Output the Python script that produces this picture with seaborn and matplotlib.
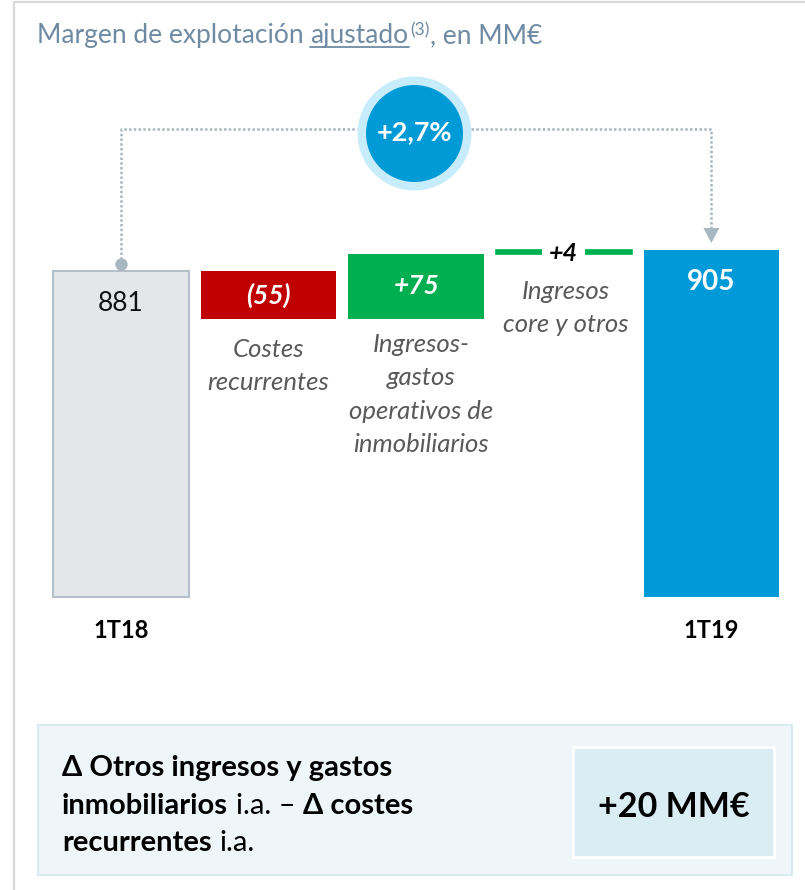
import matplotlib
matplotlib.use("Agg")
import matplotlib.pyplot as plt
from matplotlib.patches import Rectangle, Polygon
import seaborn as sns
import pandas as pd

# ---------------- data ----------------
categories = ["1T18", "Costes recurrentes", "Ingresos-gastos operativos de inmobiliarios",
              "Ingresos core y otros", "1T19"]
values = [881, -55, 75, 4, 905]
kinds = ["total", "delta", "delta", "delta", "total"]
value_labels = ["881", "(55)", "+75", "+4", "905"]
step_labels = ["", "Costes\nrecurrentes", "Ingresos-\ngastos\noperativos de\ninmobiliarios",
               "Ingresos\ncore y otros", ""]
period_labels = ["1T18", "", "", "", "1T19"]
growth_label = "+2,7%"
box_value = "+20 MM€"
bar_colors = ["#E3E7EA", "#C00000", "#00B050", "#00B050", "#009AD8"]

# ---------------- layout ----------------
W, H = 805, 890
AXIS_BASE = 506.3      # truncated value axis baseline
K = 0.87               # pixels per unit
PY_BASE = 597
X0_PX, DX_PX = 121, 147.6

def y_of(py):
    return AXIS_BASE + (PY_BASE - py) / K

def x_of(px):
    return (px - X0_PX) / DX_PX

def fx(px):
    return px / W

def fy(py):
    return 1 - py / H

sns.set_theme(style="white")
plt.rcParams["font.family"] = ["Lato", "DejaVu Sans"]

fig = plt.figure(figsize=(W / 100, H / 100), dpi=100)
ax = fig.add_axes([0, 0, 1, 1])

# waterfall geometry
bottoms, heights, tops = [], [], []
running = 0
for v, k in zip(values, kinds):
    if k == "total":
        bottoms.append(AXIS_BASE)
        heights.append(v - AXIS_BASE)
        running = v
    else:
        lo = min(running, running + v)
        bottoms.append(lo)
        heights.append(abs(v))
        running += v
    tops.append(bottoms[-1] + heights[-1])

df = pd.DataFrame({"cat": categories, "height": heights})
sns.barplot(data=df, x="cat", y="height", order=categories, bottom=bottoms,
            width=0.92, color="#cccccc", errorbar=None, ax=ax)

for i, p in enumerate(ax.patches):
    p.set_facecolor(bar_colors[i])
    p.set_edgecolor(bar_colors[i])
    p.set_linewidth(0)
    p.set_zorder(2)
ax.patches[0].set_edgecolor("#B4BFC7")
ax.patches[0].set_linewidth(1.5)
ax.patches[3].set_linewidth(1.2)

ax.set_xlim(x_of(0), x_of(W))
ax.set_ylim(y_of(H), y_of(0))
ax.axis("off")

# value labels
for i, (lab, k) in enumerate(zip(value_labels, kinds)):
    if k == "total":
        y = tops[i] - 32 / K
        if i == 0:
            ax.text(i, y, lab, ha="center", va="center", fontsize=19, color="#111111", zorder=5)
        else:
            ax.text(i, y, lab, ha="center", va="center", fontsize=20, fontweight="bold",
                    color="white", zorder=5)
    else:
        y = bottoms[i] + heights[i] / 2
        if heights[i] < 10:
            ax.text(i, y - 1.5 / K, lab, ha="center", va="center", fontsize=18, fontweight="bold",
                    fontstyle="italic", color="black", zorder=5,
                    bbox=dict(facecolor="white", edgecolor="none", pad=5))
        else:
            ax.text(i, y, lab, ha="center", va="center", fontsize=19, fontweight="bold",
                    fontstyle="italic", color="white", zorder=5)

# step labels (italic grey)
label_top_px = [None, 338, 333, 280, None]
label_dx_px = [0, 0, 5, 2, 0]
for i, lab in enumerate(step_labels):
    if lab:
        ax.text(i + label_dx_px[i] / DX_PX, y_of(label_top_px[i]), lab, ha="center", va="top",
                fontsize=18.5, fontstyle="italic", color="#595959", linespacing=1.55)

# period labels
for i, lab in enumerate(period_labels):
    if lab:
        ax.text(i, y_of(631), lab, ha="center", va="center", fontsize=17,
                fontweight="bold", color="black")

# connector (dotted) and growth bubble
cc = "#A9B7C1"
conn_y = y_of(129)
circ_x = x_of(414)
circ_y = y_of(132.5)
dot_kw = dict(color=cc, lw=1.8, dashes=(1, 0.9), solid_capstyle="butt", zorder=1)
ax.plot([0, 0, x_of(357)], [tops[0] + 7 / K, conn_y, conn_y], **dot_kw)
ax.plot([x_of(471), 4, 4], [conn_y, conn_y, y_of(229)], **dot_kw)
ax.scatter([0], [tops[0] + 7 / K], s=80, color=cc, zorder=3, linewidths=0)
ax.add_patch(Polygon([[4 - 8 / DX_PX, y_of(228)], [4 + 8 / DX_PX, y_of(228)],
                      [4, y_of(243)]], closed=True, facecolor=cc, edgecolor="none", zorder=3))
ax.scatter([circ_x], [circ_y], s=(114 * 0.72) ** 2, color="#C7ECFB", linewidths=0, zorder=4)
ax.scatter([circ_x], [circ_y], s=(97 * 0.72) ** 2, color="#009AD7", linewidths=0, zorder=5)
ax.text(circ_x, circ_y, growth_label, ha="center", va="center", fontsize=19.5,
        fontweight="bold", color="white", zorder=6)

# frame lines
fig.add_artist(plt.Line2D([fx(14), fx(14)], [fy(2), fy(H)], color="#DADADA", lw=1.6))
fig.add_artist(plt.Line2D([fx(14), fx(W)], [fy(2), fy(2)], color="#DADADA", lw=1.6))

# summary box
fig.add_artist(Rectangle((fx(38), fy(875)), (792 - 38) / W, (875 - 725) / H,
                         transform=fig.transFigure, facecolor="#EEF6F9",
                         edgecolor="#D8EAF0", lw=1.5))
fig.add_artist(Rectangle((fx(573), fy(857)), (774 - 573) / W, (857 - 747) / H,
                         transform=fig.transFigure, facecolor="#DAEDF3",
                         edgecolor="white", lw=2))
fig.text(fx(674), fy(807), box_value, ha="center", va="center", fontsize=24.5,
         fontweight="bold", color="black")

renderer = fig.canvas.get_renderer()

def space_w(**kw):
    a = fig.text(0, 0, "xx", **kw)
    b = fig.text(0, 0, "x x", **kw)
    w = b.get_window_extent(renderer).width - a.get_window_extent(renderer).width
    a.remove()
    b.remove()
    return w

def draw_runs(x_px, base_py, runs):
    x = x_px
    out = []
    for text, kw in runs:
        if text == " ":
            x += space_w(**{k: v for k, v in kw.items() if k in ("fontsize", "fontweight", "fontstyle")})
            continue
        dy = kw.pop("raise_px", 0)
        t = fig.text(fx(x), fy(base_py - dy), text, ha="left", va="baseline", **kw)
        bb = t.get_window_extent(renderer)
        out.append((x, bb.x1))
        x = bb.x1
    return out

tc = "#6F8BA4"
reg = dict(fontsize=19, color=tc)
spans = draw_runs(37, 43, [("Margen de explotación", dict(reg)), (" ", dict(reg)),
                           ("ajustado", dict(reg)), (" ", dict(fontsize=5)),
                           ("(3)", dict(fontsize=12.5, color=tc, raise_px=8)),
                           (", en MM€", dict(reg))])
ux0, ux1 = spans[1]
fig.add_artist(plt.Line2D([fx(ux0), fx(ux1)], [fy(47), fy(47)], color=tc, lw=1.3))

B = dict(fontsize=21, fontweight="bold", color="black")
R = dict(fontsize=21, color="black")
draw_runs(62, 776, [("Δ Otros ingresos y gastos", dict(B))])
draw_runs(62, 813.5, [("inmobiliarios", dict(B)), (" ", dict(R)), ("i.a. –", dict(R)),
                      (" ", dict(R)), ("Δ costes", dict(B))])
draw_runs(62, 851, [("recurrentes", dict(B)), (" ", dict(R)), ("i.a.", dict(R))])

fig.savefig("out.png", dpi=100, facecolor="white")
